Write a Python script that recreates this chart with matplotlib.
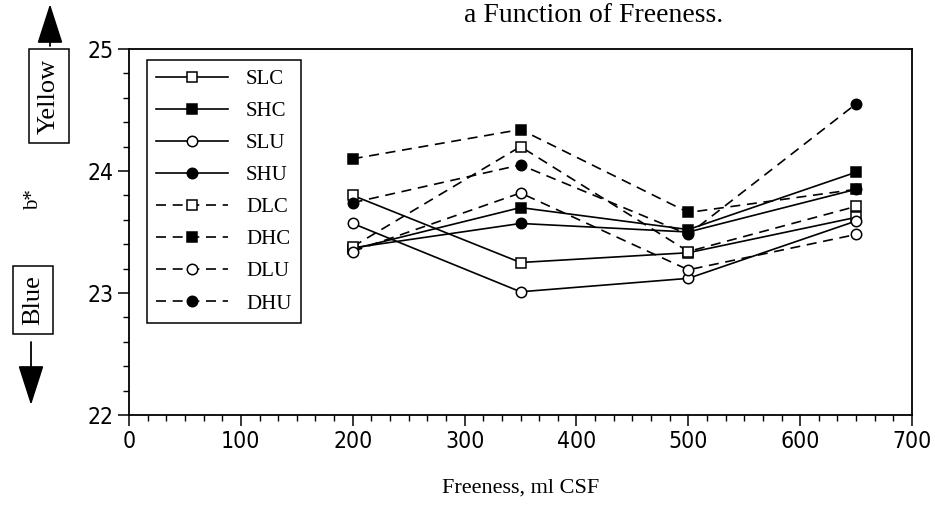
import matplotlib
matplotlib.use('Agg')
from matplotlib import pyplot as plt
from matplotlib.ticker import MultipleLocator

# b* readings vs freeness (ml CSF)
freeness = [200, 350, 500, 650]
labels = ['SLC', 'SHC', 'SLU', 'SHU', 'DLC', 'DHC', 'DLU', 'DHU']
SLC = [23.80, 23.25, 23.33, 23.62]
SHC = [23.36, 23.70, 23.52, 23.99]
SLU = [23.57, 23.01, 23.12, 23.59]
SHU = [23.37, 23.57, 23.50, 23.85]
DLC = [23.38, 24.20, 23.34, 23.71]
DHC = [24.10, 24.34, 23.66, 23.85]
DLU = [23.34, 23.82, 23.19, 23.48]
DHU = [23.74, 24.05, 23.48, 24.55]
values = [SLC, SHC, SLU, SHU, DLC, DHC, DLU, DHU]

W, H = 935, 507
fig = plt.figure(figsize=(W / 100, H / 100), dpi=100)
ax = fig.add_axes([129 / W, 1 - 415 / H, (912 - 129) / W, (415 - 49) / H])

serif = ['Liberation Serif', 'DejaVu Serif']

for name, vals in zip(labels, values):
    ls = '-' if name[0] == 'S' else (0, (6, 4))
    mk = 's' if name[2] == 'C' else 'o'
    face = 'black' if name[1] == 'H' else 'white'
    ax.plot(freeness, vals, color='black', linestyle=ls, linewidth=1.2,
            marker=mk, markersize=7.5, markerfacecolor=face,
            markeredgecolor='black', markeredgewidth=1.1, label=name)

ax.set_xlim(0, 700)
ax.set_ylim(22, 25)
ax.xaxis.set_major_locator(MultipleLocator(100))
ax.xaxis.set_minor_locator(MultipleLocator(100 / 6))
ax.yaxis.set_major_locator(MultipleLocator(1))
ax.yaxis.set_minor_locator(MultipleLocator(0.2))
ax.tick_params(which='major', direction='out', length=8, width=1.1, pad=3)
ax.tick_params(which='minor', direction='out', length=4, width=1.0)
ax.tick_params(top=False, right=False, which='both')
for sp in ax.spines.values():
    sp.set_linewidth(1.3)
for lab in ax.get_xticklabels() + ax.get_yticklabels():
    lab.set_family('DejaVu Sans')
    lab.set_stretch('condensed')
    lab.set_fontsize(16.5)

ax.set_xlabel('Freeness, ml CSF', family=serif, fontsize=16, labelpad=18)

leg = ax.legend(loc='upper left', bbox_to_anchor=(0.023, 0.97),
                borderaxespad=0, prop={'family': serif, 'size': 15},
                handlelength=3.45, handletextpad=0.85, labelspacing=0.6,
                borderpad=0.45, fancybox=False, framealpha=1, edgecolor='black')
leg.get_frame().set_linewidth(1.1)

# partial title left over from the top of the scan
fig.text(723 / W, 1 - 22 / H, 'a Function of Freeness.', family=serif,
         fontsize=20, ha='right', va='baseline')

# y axis label and the colour direction boxes
fig.text(34 / W, 1 - 200 / H, 'b*', family=serif, fontsize=15,
         rotation=90, ha='center', va='center')
box = dict(boxstyle='square,pad=0.35', facecolor='white', edgecolor='black', linewidth=1.1)
fig.text(49 / W, 1 - 96 / H, 'Yellow', family=serif, fontsize=19,
         rotation=90, ha='center', va='center', bbox=box)
fig.text(33 / W, 1 - 300 / H, 'Blue', family=serif, fontsize=19,
         rotation=90, ha='center', va='center', bbox=box)

arrow = dict(arrowstyle='-|>,head_length=1.4,head_width=0.45', color='black',
             linewidth=1.3, mutation_scale=18, shrinkA=0, shrinkB=0)
ax.annotate('', xy=(50, H - 4), xytext=(50, H - 46), xycoords='figure pixels',
            textcoords='figure pixels', arrowprops=arrow)
ax.annotate('', xy=(31, H - 405), xytext=(31, H - 342), xycoords='figure pixels',
            textcoords='figure pixels', arrowprops=arrow)

fig.savefig('out.png', dpi=100)
